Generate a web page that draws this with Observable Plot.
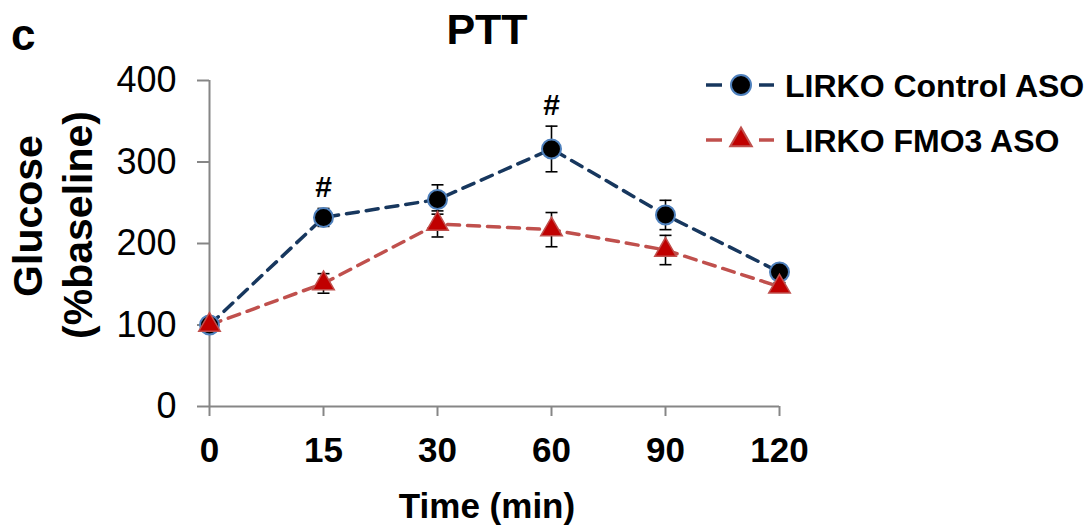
<!DOCTYPE html>
<html><head><meta charset="utf-8">
<script src="https://cdn.jsdelivr.net/npm/d3@7"></script>
<script src="https://cdn.jsdelivr.net/npm/@observablehq/plot@0.6"></script>
<style>
body{margin:0;background:#fff;}
#wrap{position:relative;width:1086px;height:529px;font-family:"Liberation Sans",Arial,sans-serif;}
#wrap > svg{position:absolute;left:0;top:0;}
</style></head><body><div id="wrap"></div>
<script>
// ---- data ----
const times = ["0","15","30","60","90","120"];
const seriesNames = ["LIRKO Control ASO","LIRKO FMO3 ASO"];
const controlMean = [100,232,254,316,235,165];
const controlSem  = [3,11,18,28,18,9];
const fmo3Mean    = [100,151,224,217,192,147];
const fmo3Sem     = [3,12,16,21,18,5];
const sigTimes    = ["15","60"];
const yTicks      = [0,100,200,300,400];
const panelLabel  = "c";
const titleText   = "PTT";
const yLabelLines = ["Glucose","(%baseline)"];
const xLabelText  = "Time (min)";

// ---- styles ----
const ctlLine = "#17375E", ctlFill = "#000000", ctlStroke = "#4F81BD";
const fmoLine = "#C0504D", fmoFill = "#C00000", fmoStroke = "#C0504D";
const axisGray = "#868686";

const control = times.map((t,i)=>({time:t, v:controlMean[i], sd:controlSem[i]}));
const fmo3 = times.map((t,i)=>({time:t, v:fmo3Mean[i], sd:fmo3Sem[i]}));
const sig = control.filter(d=>sigTimes.includes(d.time));

const capSymbol = {draw(ctx,size){const w=Math.sqrt(size/Math.PI);ctx.moveTo(-w,0);ctx.lineTo(w,0);}};

function errMarks(data){
  return [
    Plot.ruleX(data,{x:"time",y1:d=>d.v-d.sd,y2:d=>d.v+d.sd,stroke:"#000",strokeWidth:1.6}),
    Plot.dot(data,{x:"time",y:d=>d.v+d.sd,symbol:capSymbol,r:6,stroke:"#000",fill:"none",strokeWidth:1.6}),
    Plot.dot(data,{x:"time",y:d=>d.v-d.sd,symbol:capSymbol,r:6,stroke:"#000",fill:"none",strokeWidth:1.6})
  ];
}

const chart = Plot.plot({
  width:1086, height:529,
  marginLeft:209, marginRight:307, marginTop:80, marginBottom:123,
  style:{fontFamily:"'Liberation Sans', Arial, sans-serif", background:"transparent", overflow:"visible"},
  x:{type:"point", domain:times, padding:0},
  y:{domain:[0,400]},
  marks:[
    Plot.axisY(yTicks,{tickSize:12,tickPadding:21,fontSize:36,stroke:axisGray,strokeWidth:2,fill:"#000",label:null}),
    Plot.axisX({tickSize:10,tickPadding:21,fontSize:35,fontWeight:"bold",stroke:axisGray,strokeWidth:2,fill:"#000",label:null}),
    Plot.ruleX([times[0]],{stroke:axisGray,strokeWidth:2}),
    Plot.ruleY([0],{stroke:axisGray,strokeWidth:2}),
    Plot.line(control,{x:"time",y:"v",stroke:ctlLine,strokeWidth:3.5,strokeDasharray:"12,8"}),
    Plot.line(fmo3,{x:"time",y:"v",stroke:fmoLine,strokeWidth:3.5,strokeDasharray:"12,8"}),
    ...errMarks(control),
    ...errMarks(fmo3),
    Plot.dot(control,{x:"time",y:"v",r:9.5,fill:ctlFill,stroke:ctlStroke,strokeWidth:2}),
    Plot.dot(fmo3,{x:"time",y:"v",symbol:"triangle",r:8,fill:fmoFill,stroke:fmoStroke,strokeWidth:1.5}),
    Plot.text(sig,{x:"time",y:d=>d.v+d.sd,text:()=>"#",dy:-21,fontSize:30,fontWeight:"bold",fill:"#000"})
  ]
});
const wrap = document.getElementById("wrap");
wrap.appendChild(chart);

// ---- overlay text: panel label, title, axis titles, legend ----
const ov = d3.create("svg").attr("width",1086).attr("height",529)
  .style("font-family","'Liberation Sans', Arial, sans-serif");
ov.append("text").attr("x",11).attr("y",50).attr("font-size",44).attr("font-weight","bold").text(panelLabel);
ov.append("text").attr("x",487).attr("y",44).attr("text-anchor","middle").attr("font-size",43).attr("font-weight","bold").text(titleText);
ov.append("text").attr("transform","translate(42,216) rotate(-90)").attr("text-anchor","middle").attr("font-size",41).attr("font-weight","bold").text(yLabelLines[0]);
ov.append("text").attr("transform","translate(92,225) rotate(-90)").attr("text-anchor","middle").attr("font-size",41).attr("font-weight","bold").text(yLabelLines[1]);
ov.append("text").attr("x",487).attr("y",518).attr("text-anchor","middle").attr("font-size",35).attr("font-weight","bold").text(xLabelText);

const legendRows = [
  {name:seriesNames[0], line:ctlLine, fill:ctlFill, stroke:ctlStroke, sym:d3.symbolCircle, size:Math.PI*10*10, cy:85},
  {name:seriesNames[1], line:fmoLine, fill:fmoFill, stroke:fmoStroke, sym:d3.symbolTriangle, size:Math.PI*8*8, cy:140}
];
for (const r of legendRows){
  const g = ov.append("g");
  g.append("line").attr("x1",706).attr("x2",722).attr("y1",r.cy).attr("y2",r.cy).attr("stroke",r.line).attr("stroke-width",3.5);
  g.append("line").attr("x1",759).attr("x2",774).attr("y1",r.cy).attr("y2",r.cy).attr("stroke",r.line).attr("stroke-width",3.5);
  g.append("path").attr("transform",`translate(741,${r.cy})`).attr("d",d3.symbol(r.sym,r.size)()).attr("fill",r.fill).attr("stroke",r.stroke).attr("stroke-width",2);
  g.append("text").attr("x",785).attr("y",r.cy+12).attr("font-size",32).attr("font-weight","bold").text(r.name);
}
wrap.appendChild(ov.node());
</script></body></html>
